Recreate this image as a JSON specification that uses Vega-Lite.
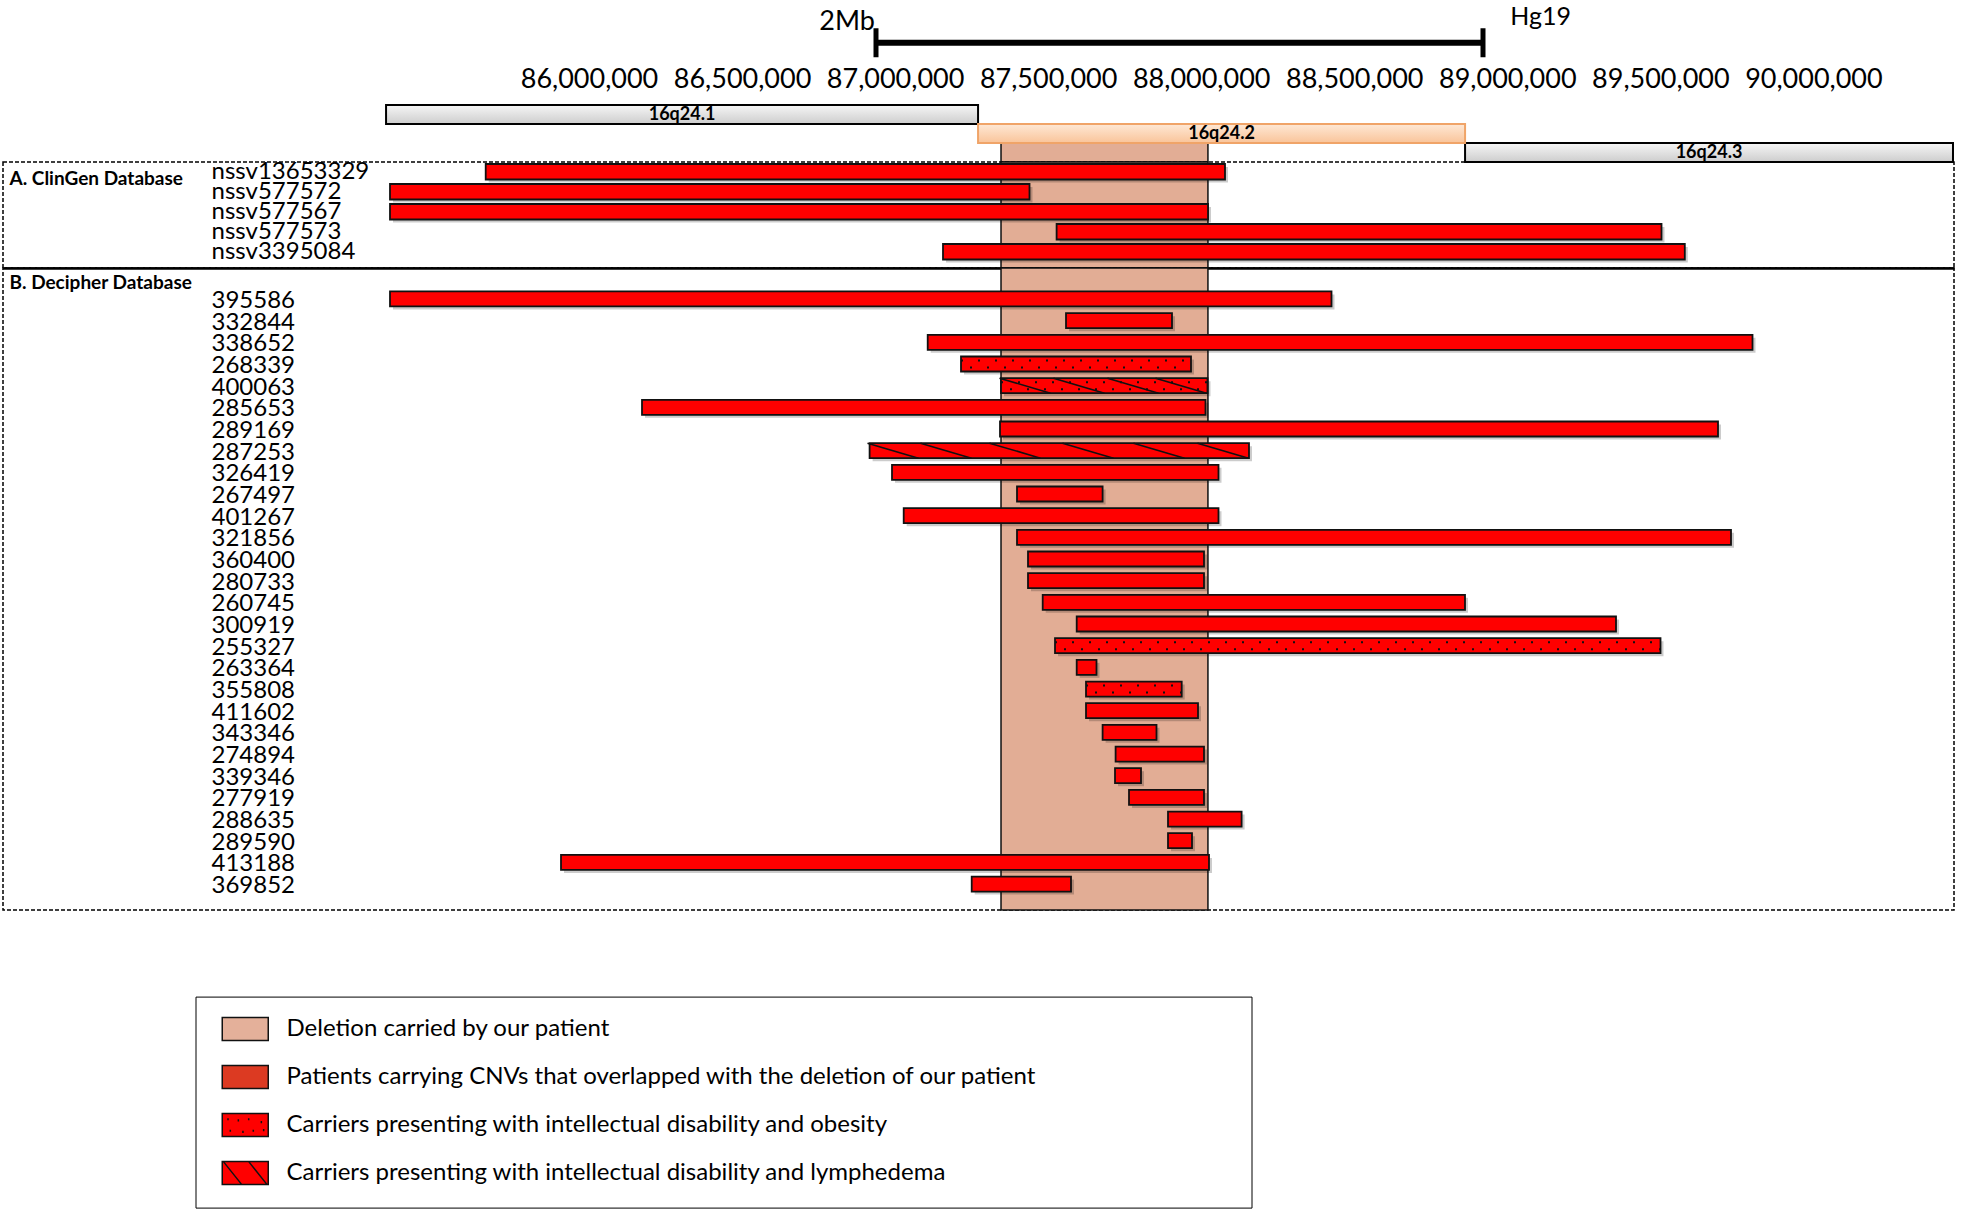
{
  "$schema": "https://vega.github.io/schema/vega-lite/v6.json",
  "padding": {"left": 2, "top": 0, "right": 0, "bottom": 0},
  "background": "white",
  "bounds": "flush",
  "spacing": 0,
  "config": {"view": {"stroke": null}, "font": "Lato", "axis": {"grid": false}},
  "datasets": {
    "scalebar": [{"start": 86937600, "end": 88920600, "label": "2Mb"}],
    "cyto": [
      {"name": "16q24.1", "start": 85337000, "end": 87271000, "level": "l1", "kind": "gray"},
      {"name": "16q24.2", "start": 87271000, "end": 88862000, "level": "l2", "kind": "peach"},
      {"name": "16q24.3", "start": 88862000, "end": 90456000, "level": "l3", "kind": "gray"}
    ],
    "del": [{"start": 87346000, "end": 88022000}],
    "clingen": [
      {"id": "nssv13653329", "start": 85662530, "end": 88077750},
      {"id": "nssv577572", "start": 85349890, "end": 87439070},
      {"id": "nssv577567", "start": 85349890, "end": 88022210},
      {"id": "nssv577573", "start": 87527600, "end": 89503750},
      {"id": "nssv3395084", "start": 87156480, "end": 89579870}
    ],
    "decipher": [
      {"id": "395586", "start": 85349890, "end": 88425670, "pat": "none"},
      {"id": "332844", "start": 87558310, "end": 87904600, "pat": "none"},
      {"id": "338652", "start": 87106500, "end": 89801040, "pat": "none"},
      {"id": "268339", "start": 87215290, "end": 87966670, "pat": "dots"},
      {"id": "400063", "start": 87345960, "end": 88020580, "pat": "both"},
      {"id": "285653", "start": 86173150, "end": 88014040, "pat": "none"},
      {"id": "289169", "start": 87342700, "end": 89688330, "pat": "none"},
      {"id": "287253", "start": 86916690, "end": 88156150, "pat": "hatch"},
      {"id": "326419", "start": 86989870, "end": 88056510, "pat": "none"},
      {"id": "267497", "start": 87398230, "end": 87677880, "pat": "none"},
      {"id": "401267", "start": 87028090, "end": 88056510, "pat": "none"},
      {"id": "321856", "start": 87398230, "end": 89730800, "pat": "none"},
      {"id": "360400", "start": 87434170, "end": 88009140, "pat": "none"},
      {"id": "280733", "start": 87434170, "end": 88009140, "pat": "none"},
      {"id": "260745", "start": 87482190, "end": 88861800, "pat": "none"},
      {"id": "300919", "start": 87593270, "end": 89355110, "pat": "none"},
      {"id": "255327", "start": 87522380, "end": 89500480, "pat": "dots"},
      {"id": "263364", "start": 87593270, "end": 87657950, "pat": "none"},
      {"id": "355808", "start": 87623650, "end": 87936290, "pat": "dots"},
      {"id": "411602", "start": 87623650, "end": 87989540, "pat": "none"},
      {"id": "343346", "start": 87677880, "end": 87853970, "pat": "none"},
      {"id": "274894", "start": 87720350, "end": 88009140, "pat": "none"},
      {"id": "339346", "start": 87718390, "end": 87803330, "pat": "none"},
      {"id": "277919", "start": 87764130, "end": 88009140, "pat": "none"},
      {"id": "288635", "start": 87891540, "end": 88131980, "pat": "none"},
      {"id": "289590", "start": 87891540, "end": 87969940, "pat": "none"},
      {"id": "413188", "start": 85908530, "end": 88025480, "pat": "none"},
      {"id": "369852", "start": 87250240, "end": 87574650, "pat": "none"}
    ],
    "hatch": [
      {"id": "400063", "pos": 87424370}, {"id": "400063", "pos": 87600780},
      {"id": "400063", "pos": 87777190}, {"id": "400063", "pos": 87934000},
      {"id": "287253", "pos": 86993140}, {"id": "287253", "pos": 87166280},
      {"id": "287253", "pos": 87391700}, {"id": "287253", "pos": 87630180},
      {"id": "287253", "pos": 87862130}, {"id": "287253", "pos": 88071210}
    ],
    "legend": [
      {"item": "Deletion carried by our patient"},
      {"item": "Patients carrying CNVs that overlapped with the deletion of our patient"},
      {"item": "Carriers presenting with intellectual disability and obesity"},
      {"item": "Carriers presenting with intellectual disability and lymphedema"}
    ]
  },
  "vconcat": [
    {
      "width": 1951, "height": 105,
      "data": {"name": "scalebar"},
      "layer": [
        {
          "mark": {"type": "rule", "strokeWidth": 6, "color": "black"},
          "encoding": {
            "x": {"field": "start", "type": "quantitative", "scale": {"domain": [84085600, 90459300], "nice": false, "zero": false}, "axis": null},
            "x2": {"field": "end"},
            "y": {"datum": "b", "type": "nominal", "scale": {"domain": ["t", "b"], "paddingInner": 0, "paddingOuter": 0.842, "align": 0}, "axis": null}
          }
        },
        {
          "transform": [{"fold": ["start", "end"], "as": ["k", "v"]}],
          "mark": {"type": "tick", "thickness": 5, "size": 29, "color": "black", "opacity": 1},
          "encoding": {
            "x": {"field": "v", "type": "quantitative", "axis": null},
            "y": {"datum": "b", "type": "nominal", "axis": null}
          }
        },
        {
          "mark": {"type": "text", "align": "right", "baseline": "alphabetic", "fontSize": 27, "dy": 16, "dx": -1, "color": "black", "font": "Lato"},
          "encoding": {
            "x": {"field": "start", "type": "quantitative", "axis": null},
            "y": {"datum": "t", "type": "nominal", "axis": null},
            "text": {"field": "label"}
          }
        },
        {
          "mark": {"type": "text", "align": "left", "baseline": "alphabetic", "fontSize": 25, "dy": 11, "color": "black", "font": "Lato"},
          "encoding": {
            "x": {"datum": 89010000, "type": "quantitative", "axis": null},
            "y": {"datum": "t", "type": "nominal", "axis": null},
            "text": {"value": "Hg19"}
          }
        }
      ]
    },
    {
      "width": 1951, "height": 57,
      "layer": [
        {
          "data": {"name": "cyto"},
          "transform": [{"filter": "datum.kind === 'gray'"}],
          "mark": {"type": "rect", "stroke": "black", "strokeWidth": 2,
            "fill": {"gradient": "linear", "x1": 0, "y1": 0, "x2": 0, "y2": 1, "stops": [{"offset": 0, "color": "#f6f6f6"}, {"offset": 1, "color": "#cdcdcd"}]}},
          "encoding": {
            "x": {"field": "start", "type": "quantitative", "scale": {"domain": [84085600, 90459300], "nice": false, "zero": false},
              "axis": {"orient": "top", "values": [86000000, 86500000, 87000000, 87500000, 88000000, 88500000, 89000000, 89500000, 90000000],
                "format": ",.0f", "labelFont": "Lato", "labelFontSize": 27, "labelColor": "black", "labelPadding": 18, "labelBaseline": "alphabetic",
                "ticks": false, "tickSize": 0, "domain": false, "grid": false, "title": null, "labelOverlap": false, "labelFlush": false, "labelBound": false}},
            "x2": {"field": "end"},
            "y": {"field": "level", "type": "nominal", "scale": {"domain": ["l1", "l2", "l3"], "paddingInner": 0, "paddingOuter": 0}, "axis": null}
          }
        },
        {
          "data": {"name": "del"},
          "mark": {"type": "rect", "fill": "#E2AD95", "stroke": "#111", "strokeWidth": 1.5},
          "encoding": {
            "x": {"field": "start", "type": "quantitative"},
            "x2": {"field": "end"},
            "y": {"datum": "l3", "type": "nominal", "axis": null}
          }
        },
        {
          "data": {"name": "cyto"},
          "transform": [{"filter": "datum.kind === 'peach'"}],
          "mark": {"type": "rect", "stroke": "#F0A468", "strokeWidth": 2,
            "fill": {"gradient": "linear", "x1": 0, "y1": 0, "x2": 0, "y2": 1, "stops": [{"offset": 0, "color": "#FEE8D5"}, {"offset": 1, "color": "#F9C49A"}]}},
          "encoding": {
            "x": {"field": "start", "type": "quantitative"},
            "x2": {"field": "end"},
            "y": {"field": "level", "type": "nominal", "axis": null}
          }
        },
        {
          "data": {"name": "cyto"},
          "transform": [
            {"fold": ["start", "end"], "as": ["k", "v"]},
            {"aggregate": [{"op": "mean", "field": "v", "as": "mid"}], "groupby": ["name", "level"]}
          ],
          "mark": {"type": "text", "font": "Lato", "fontWeight": "bold", "fontSize": 18, "color": "black", "baseline": "middle"},
          "encoding": {
            "x": {"field": "mid", "type": "quantitative"},
            "y": {"field": "level", "type": "nominal", "axis": null},
            "text": {"field": "name"}
          }
        }
      ]
    },
    {
      "width": 1951, "height": 106,
      "view": {"stroke": "black", "strokeDash": [4, 2], "strokeWidth": 1.5},
      "layer": [
        {
          "data": {"name": "del"},
          "mark": {"type": "rect", "fill": "#E2AD95", "stroke": "#111", "strokeWidth": 1.5},
          "encoding": {
            "x": {"field": "start", "type": "quantitative", "scale": {"domain": [84085600, 90459300], "nice": false, "zero": false},
              "axis": {"orient": "bottom", "labels": false, "ticks": false, "domain": true, "domainColor": "black", "domainWidth": 2.5, "title": null, "grid": false, "zindex": 1}},
            "x2": {"field": "end"}
          }
        },
        {
          "data": {"name": "clingen"},
          "mark": {"type": "rect", "fill": "#000", "opacity": 0.2, "xOffset": 3, "x2Offset": 3, "yOffset": 3, "y2Offset": 3},
          "encoding": {
            "x": {"field": "start", "type": "quantitative"},
            "x2": {"field": "end"},
            "y": {"field": "id", "type": "nominal"}
          }
        },
        {
          "data": {"name": "clingen"},
          "mark": {"type": "rect", "fill": "#FF0000", "stroke": "#111", "strokeWidth": 1.8},
          "encoding": {
            "x": {"field": "start", "type": "quantitative"},
            "x2": {"field": "end"},
            "y": {"field": "id", "type": "nominal",
              "scale": {"domain": ["nssv13653329", "nssv577572", "nssv577567", "nssv577573", "nssv3395084"], "paddingInner": 0.225, "paddingOuter": 0.2625, "align": 0.19},
              "axis": {"orient": "left", "offset": -208, "labelAlign": "left", "labelPadding": 0, "ticks": false, "tickSize": 0, "domain": false, "grid": false,
                "labelFont": "Lato", "labelFontSize": 24, "labelColor": "black", "labelBaseline": "middle", "labelLimit": 0, "labelOverlap": false,
                "title": "A. ClinGen Database", "titleAngle": 0, "titleAlign": "left", "titleBaseline": "middle", "titleX": -202, "titleY": 16,
                "titleFont": "Lato", "titleFontSize": 19, "titleFontWeight": "bold", "titleColor": "black"}}
          }
        }
      ]
    },
    {
      "width": 1951, "height": 642,
      "view": {"stroke": "black", "strokeDash": [4, 2], "strokeWidth": 1.5},
      "layer": [
        {
          "data": {"name": "del"},
          "mark": {"type": "rect", "fill": "#E2AD95", "stroke": "#111", "strokeWidth": 1.5},
          "encoding": {
            "x": {"field": "start", "type": "quantitative", "scale": {"domain": [84085600, 90459300], "nice": false, "zero": false}, "axis": null},
            "x2": {"field": "end"}
          }
        },
        {
          "data": {"name": "decipher"},
          "mark": {"type": "rect", "fill": "#000", "opacity": 0.2, "xOffset": 3, "x2Offset": 3, "yOffset": 3, "y2Offset": 3},
          "encoding": {
            "x": {"field": "start", "type": "quantitative", "axis": null},
            "x2": {"field": "end"},
            "y": {"field": "id", "type": "nominal"}
          }
        },
        {
          "data": {"name": "decipher"},
          "mark": {"type": "rect", "fill": "#FF0000", "stroke": "#111", "strokeWidth": 1.8},
          "encoding": {
            "x": {"field": "start", "type": "quantitative", "axis": null},
            "x2": {"field": "end"},
            "y": {"field": "id", "type": "nominal",
              "scale": {"domain": ["395586", "332844", "338652", "268339", "400063", "285653", "289169", "287253", "326419", "267497", "401267", "321856", "360400", "280733", "260745", "300919", "255327", "263364", "355808", "411602", "343346", "274894", "339346", "277919", "288635", "289590", "413188", "369852"],
                "paddingInner": 0.308, "paddingOuter": 0.967, "align": 0.56},
              "axis": {"orient": "left", "offset": -208, "labelAlign": "left", "labelPadding": 0, "ticks": false, "tickSize": 0, "domain": false, "grid": false,
                "labelFont": "Lato", "labelFontSize": 24, "labelColor": "black", "labelBaseline": "middle", "labelLimit": 0, "labelOverlap": false, "labelOffset": 2,
                "title": "B. Decipher Database", "titleAngle": 0, "titleAlign": "left", "titleBaseline": "middle", "titleX": -202, "titleY": 14,
                "titleFont": "Lato", "titleFontSize": 19, "titleFontWeight": "bold", "titleColor": "black"}}
          }
        },
        {
          "data": {"name": "decipher"},
          "transform": [{"filter": "datum.pat === 'dots' || datum.pat === 'both'"}],
          "mark": {"type": "rule", "color": "#111", "strokeWidth": 2, "strokeDash": [2, 15], "strokeCap": "butt", "yOffset": -3.5},
          "encoding": {
            "x": {"field": "start", "type": "quantitative", "axis": null},
            "x2": {"field": "end"},
            "y": {"field": "id", "type": "nominal"}
          }
        },
        {
          "data": {"name": "decipher"},
          "transform": [{"filter": "datum.pat === 'dots' || datum.pat === 'both'"}],
          "mark": {"type": "rule", "color": "#111", "strokeWidth": 2, "strokeDash": [2, 15], "strokeDashOffset": 8, "strokeCap": "butt", "yOffset": 3.5},
          "encoding": {
            "x": {"field": "start", "type": "quantitative", "axis": null},
            "x2": {"field": "end"},
            "y": {"field": "id", "type": "nominal"}
          }
        },
        {
          "data": {"name": "hatch"},
          "mark": {"type": "point", "shape": "M-3.4,-1L3.4,1", "size": 225, "filled": false, "color": "#111", "strokeWidth": 1.6, "opacity": 1},
          "encoding": {
            "x": {"field": "pos", "type": "quantitative", "axis": null},
            "y": {"field": "id", "type": "nominal"}
          }
        }
      ]
    },
    {
      "width": 1951, "height": 302,
      "data": {"name": "legend"},
      "mark": {"type": "point", "opacity": 0, "filled": true, "size": 529, "strokeWidth": 1.5},
      "encoding": {
        "fill": {"field": "item", "type": "nominal",
          "scale": {"domain": ["Deletion carried by our patient", "Patients carrying CNVs that overlapped with the deletion of our patient", "Carriers presenting with intellectual disability and obesity", "Carriers presenting with intellectual disability and lymphedema"],
            "range": ["#E4B09A", "#DC3A22", "#FF0000", "#FF0000"]},
          "legend": {"orient": "none", "legendX": 192.5, "legendY": 996.6, "title": "\u00a0", "titleOrient": "right", "titlePadding": 195, "titleFontSize": 10,
            "padding": 20, "strokeColor": "black", "fillColor": "white", "cornerRadius": 0,
            "labelFont": "Lato", "labelFontSize": 24, "labelColor": "black", "labelLimit": 0, "labelOffset": 46, "rowPadding": 19,
            "symbolSize": 529, "symbolStrokeColor": "black", "symbolStrokeWidth": 1.5, "symbolOpacity": 1}},
        "stroke": {"field": "item", "type": "nominal",
          "scale": {"domain": ["Deletion carried by our patient", "Patients carrying CNVs that overlapped with the deletion of our patient", "Carriers presenting with intellectual disability and obesity", "Carriers presenting with intellectual disability and lymphedema"],
            "range": ["#111111", "#111111", "#111111", "#111111"]},
          "legend": {"orient": "none", "legendX": 192.5, "legendY": 996.6, "title": "\u00a0", "titleOrient": "right", "titlePadding": 195, "titleFontSize": 10,
            "padding": 20, "strokeColor": "black", "fillColor": "white", "cornerRadius": 0,
            "labelFont": "Lato", "labelFontSize": 24, "labelColor": "black", "labelLimit": 0, "labelOffset": 46, "rowPadding": 19,
            "symbolSize": 529, "symbolStrokeColor": "black", "symbolStrokeWidth": 1.5, "symbolOpacity": 1}},
        "shape": {"field": "item", "type": "nominal",
          "scale": {"domain": ["Deletion carried by our patient", "Patients carrying CNVs that overlapped with the deletion of our patient", "Carriers presenting with intellectual disability and obesity", "Carriers presenting with intellectual disability and lymphedema"],
            "range": ["M-0.5,-1H3.5V1H-0.5Z", "M-0.5,-1H3.5V1H-0.5Z",
              "M-0.5,-1H3.5V1H-0.5Z M0,-0.6V-0.42 M0.9,-0.5V-0.32 M1.8,-0.6V-0.42 M2.9,-0.35V-0.17 M0.2,0.4V0.58 M1.3,0.5V0.68 M2.2,0.4V0.58 M3.1,0.35V0.53",
              "M-0.5,-1H3.5V1H-0.5Z M-0.4,-1L1.2,1 M1.8,-1L3.4,1"]},
          "legend": {"orient": "none", "legendX": 192.5, "legendY": 996.6, "title": "\u00a0", "titleOrient": "right", "titlePadding": 195, "titleFontSize": 10,
            "padding": 20, "strokeColor": "black", "fillColor": "white", "cornerRadius": 0,
            "labelFont": "Lato", "labelFontSize": 24, "labelColor": "black", "labelLimit": 0, "labelOffset": 46, "rowPadding": 19,
            "symbolSize": 529, "symbolStrokeColor": "black", "symbolStrokeWidth": 1.5, "symbolOpacity": 1}}
      }
    }
  ]
}
